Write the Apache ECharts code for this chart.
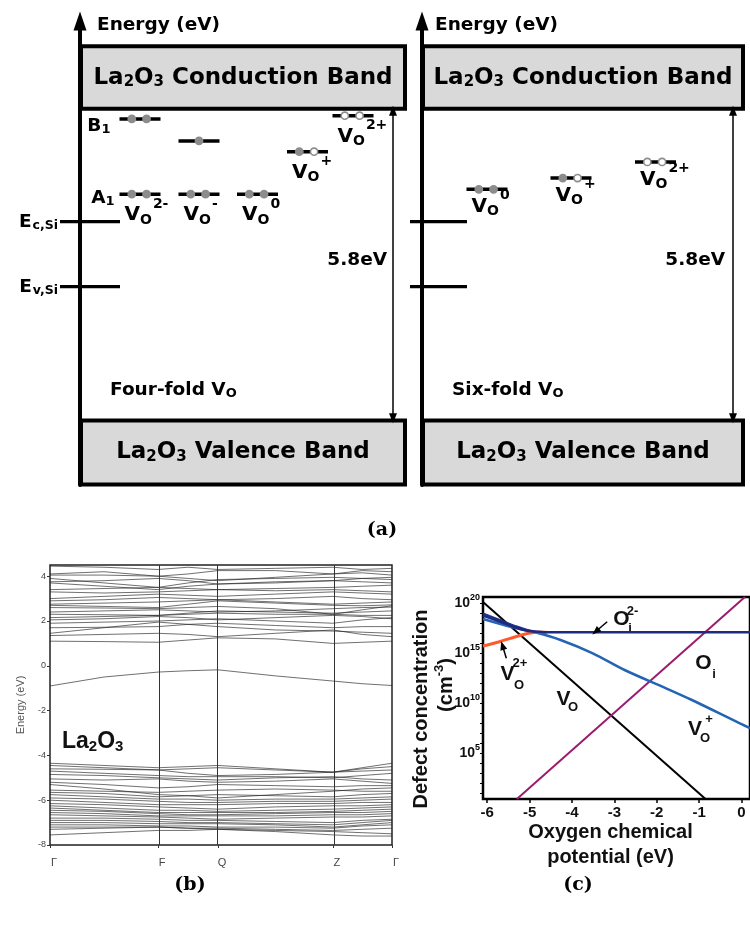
<!DOCTYPE html>
<html><head><meta charset="utf-8">
<script src="https://cdn.jsdelivr.net/npm/echarts@6/dist/echarts.min.js"></script>
<style>html,body{margin:0;padding:0;background:#fff}#c{width:750px;height:925px}</style>
</head><body><div id="c"></div>
<script>
// ===================== DATA =====================
// ---- Panel (a): defect levels, eV above the La2O3 valence-band top ----
const gapLa2O3 = 5.8;
const siEc = 3.70;
const siEv = 2.49;
const fourFoldCharges = ['2-', '-', '0', '+', '2+'];
const fourFoldA1 = [4.21, 4.21, 4.21, null, null];
const fourFoldB1 = [5.61, 5.20, null, 5.00, 5.67];
const fourFoldA1Occ = ['ff', 'ff', 'ff', null, null];   // f = electron, o = empty
const fourFoldB1Occ = ['ff', 'f', null, 'fo', 'oo'];
const sixFoldCharges = ['0', '+', '2+'];
const sixFoldLevel = [4.30, 4.51, 4.81];
const sixFoldOcc = ['ff', 'fo', 'oo'];

// ---- Panel (b): band structure of La2O3 (eV) along Γ-F-Q-Z-Γ ----
const kPath = [0, 0.158, 0.316, 0.404, 0.491, 0.659, 0.827, 0.913, 1.0];
const kTickPos = [0, 0.316, 0.491, 0.827, 1.0];
const kTickLabels = ['Γ', 'F', 'Q', 'Z', 'Γ'];
const conductionBands = [
  [1.10, 1.08, 1.05, 1.15, 1.25, 1.20, 1.00, 1.05, 1.10],
  [1.35, 1.40, 1.45, 1.40, 1.30, 1.45, 1.60, 1.40, 1.30],
  [1.45, 1.70, 1.95, 1.85, 1.75, 1.60, 1.55, 1.50, 1.45],
  [1.70, 1.72, 1.75, 1.85, 1.90, 1.80, 1.70, 1.75, 1.75],
  [1.90, 1.95, 2.00, 2.05, 2.10, 2.00, 1.90, 2.05, 2.15],
  [2.05, 2.10, 2.20, 2.15, 2.05, 2.15, 2.25, 2.20, 2.10],
  [2.15, 2.20, 2.25, 2.30, 2.35, 2.30, 2.30, 2.25, 2.25],
  [2.30, 2.28, 2.25, 2.35, 2.45, 2.40, 2.35, 2.40, 2.45],
  [2.40, 2.45, 2.50, 2.45, 2.40, 2.45, 2.55, 2.60, 2.62],
  [2.60, 2.58, 2.55, 2.60, 2.65, 2.55, 2.30, 2.50, 2.68],
  [2.70, 2.65, 2.60, 2.75, 2.90, 2.80, 2.70, 2.68, 2.72],
  [2.75, 2.80, 2.85, 2.90, 2.95, 2.85, 2.75, 2.80, 2.85],
  [2.90, 2.95, 3.05, 3.00, 2.95, 3.00, 3.10, 3.00, 2.95],
  [3.00, 3.10, 3.20, 3.15, 3.10, 3.20, 3.30, 3.25, 3.20],
  [3.30, 3.25, 3.30, 3.35, 3.40, 3.35, 3.40, 3.35, 3.30],
  [3.40, 3.45, 3.50, 3.45, 3.40, 3.45, 3.50, 3.55, 3.60],
  [3.70, 3.55, 3.40, 3.55, 3.65, 3.75, 3.80, 3.75, 3.70],
  [3.75, 3.80, 3.90, 3.80, 3.65, 3.70, 3.80, 3.90, 3.95],
  [3.90, 3.70, 3.50, 3.70, 3.85, 3.90, 3.95, 3.90, 3.85],
  [4.05, 4.05, 4.00, 4.10, 4.25, 4.25, 4.10, 4.15, 4.05],
  [4.10, 4.20, 4.00, 3.90, 3.80, 3.95, 4.10, 4.25, 4.20],
  [4.45, 4.40, 4.30, 4.40, 4.30, 4.35, 4.40, 4.30, 4.35]
];
const defectBand = [-0.90, -0.50, -0.28, -0.22, -0.18, -0.45, -0.68, -0.80, -0.88];
const valenceBands = [
  [-4.35, -4.45, -4.55, -4.50, -4.45, -4.60, -4.75, -4.55, -4.35],
  [-4.45, -4.55, -4.65, -4.60, -4.55, -4.65, -4.75, -4.60, -4.50],
  [-4.60, -4.62, -4.65, -4.80, -4.90, -4.85, -4.75, -4.70, -4.65],
  [-4.70, -4.80, -4.90, -4.95, -4.95, -4.95, -5.00, -4.90, -4.80],
  [-4.85, -4.90, -5.00, -5.05, -5.10, -5.00, -4.95, -5.05, -5.10],
  [-5.05, -5.10, -5.05, -5.15, -5.20, -5.15, -5.05, -5.15, -5.25],
  [-5.20, -5.30, -5.45, -5.40, -5.30, -5.35, -5.40, -5.35, -5.35],
  [-5.30, -5.50, -5.75, -5.80, -5.90, -5.75, -5.60, -5.50, -5.45],
  [-5.55, -5.60, -5.65, -5.60, -5.55, -5.50, -5.55, -5.60, -5.60],
  [-5.65, -5.70, -5.85, -5.80, -5.75, -5.80, -5.85, -5.75, -5.70],
  [-5.75, -5.85, -5.95, -5.95, -6.00, -5.95, -5.95, -5.90, -5.85],
  [-5.90, -5.95, -6.05, -6.10, -6.10, -6.05, -6.05, -6.00, -5.95],
  [-6.00, -6.10, -6.20, -6.20, -6.20, -6.15, -6.15, -6.10, -6.10],
  [-6.15, -6.20, -6.30, -6.35, -6.40, -6.30, -6.25, -6.25, -6.20],
  [-6.25, -6.35, -6.45, -6.45, -6.50, -6.45, -6.40, -6.35, -6.30],
  [-6.35, -6.45, -6.55, -6.55, -6.55, -6.55, -6.50, -6.45, -6.40],
  [-6.45, -6.50, -6.60, -6.65, -6.65, -6.60, -6.55, -6.55, -6.50],
  [-6.55, -6.60, -6.70, -6.70, -6.70, -6.70, -6.65, -6.65, -6.60],
  [-6.65, -6.70, -6.75, -6.80, -6.85, -6.80, -6.75, -6.75, -6.70],
  [-6.80, -6.80, -6.85, -6.90, -6.90, -6.95, -7.00, -6.90, -6.85],
  [-6.90, -6.90, -6.95, -7.00, -7.00, -7.05, -7.10, -7.00, -6.90],
  [-7.00, -7.00, -7.05, -7.05, -7.05, -7.10, -7.20, -7.10, -7.00],
  [-7.10, -7.10, -7.15, -7.15, -7.20, -7.20, -7.25, -7.15, -7.10],
  [-7.20, -7.20, -7.20, -7.25, -7.25, -7.30, -7.35, -7.30, -7.25],
  [-7.30, -7.25, -7.20, -7.25, -7.30, -7.35, -7.40, -7.45, -7.50],
  [-7.55, -7.45, -7.35, -7.35, -7.30, -7.40, -7.55, -7.60, -7.60]
];

// ---- Panel (c): defect concentration, log10(cm^-3) vs oxygen chemical potential (eV) ----
const muVO = [-6.1, -0.85];
const logVO = [20.1, 0.4];
const muOi = [-5.3, 0.08];
const logOi = [0.4, 20.6];
const muVOp = [-6.1, -5.4, -4.87, -4.27, -3.51, -2.76, -1.78, -1.17, -0.04, 0.2];
const logVOp = [18.4, 17.57, 17.07, 16.3, 14.97, 13.3, 11.47, 10.3, 7.97, 7.5];
const muOi2m = [-6.1, -5.71, -5.33, -5.02, -4.65, 0.2];
const logOi2m = [18.75, 18.15, 17.55, 17.2, 17.07, 17.07];
const muOi2mB = [-6.1, -5.7, -5.3, -5.0, -4.6];
const logOi2mB = [18.95, 18.3, 17.65, 17.25, 17.07];
const muVO2p = [-6.1, -5.71, -5.33, -5.02, -4.80, -4.6];
const logVO2p = [15.7, 16.13, 16.63, 16.97, 17.07, 17.07];
const muTicks = [-6, -5, -4, -3, -2, -1, 0];
const logLabelTicks = [5, 10, 15, 20];
const logMinorTicks = [1,2,3,4,5,6,7,8,9,10,11,12,13,14,15,16,17,18,19,20];

// ===================== LAYOUT / STYLE =====================
const FA = 'DejaVu Sans';
const FS = 'Liberation Sans';
const cols4 = [60, 119, 177.5, 227.5, 273];
const cols6 = [65, 149, 233.5];
const LEVEL_HALF = 20.5;

const richA = {
  m: {fontFamily: FA, fontWeight: 'bold', fontSize: 20, lineHeight: 22, color: '#000', verticalAlign: 'middle'},
  s: {fontFamily: FA, fontWeight: 'bold', fontSize: 14, lineHeight: 14, padding: [10, 0, 0, 0], color: '#000', verticalAlign: 'middle'},
  p: {fontFamily: FA, fontWeight: 'bold', fontSize: 14, lineHeight: 14, padding: [0, 0, 22, 1], color: '#000', verticalAlign: 'middle'},
  t: {fontFamily: FA, fontWeight: 'bold', fontSize: 18.5, lineHeight: 20, color: '#000', verticalAlign: 'middle'},
  ts: {fontFamily: FA, fontWeight: 'bold', fontSize: 13, lineHeight: 13, padding: [7, 0, 0, 0], color: '#000', verticalAlign: 'middle'},
  ts2: {fontFamily: FA, fontWeight: 'bold', fontSize: 12.5, lineHeight: 12.5, padding: [6, 0, 0, 1], color: '#000', verticalAlign: 'middle'},
  big: {fontFamily: FA, fontWeight: 'bold', fontSize: 23, lineHeight: 26, color: '#000', verticalAlign: 'middle'},
  bigs: {fontFamily: FA, fontWeight: 'bold', fontSize: 15, lineHeight: 15, padding: [9, 0, 0, 0], color: '#000', verticalAlign: 'middle'}
};

function txt(x, y, text, dx, dy, align) {
  return {value: [x, y], label: {show: true, formatter: text, position: [dx, dy], align: align || 'left', verticalAlign: 'middle',
    color: '#000', opacity: 1, textBorderWidth: 0, rich: richA}};
}
function vo(c) { return '{m|V}{s|O}{p|' + c + '}'; }

function buildLevels(cols, lists) {
  const items = [];
  lists.forEach(([energies, occs]) => {
    energies.forEach((e, i) => { if (e != null) items.push({x: cols[i], e: e, occ: occs[i]}); });
  });
  return items;
}
const levels4 = buildLevels(cols4, [[fourFoldA1, fourFoldA1Occ], [fourFoldB1, fourFoldB1Occ]]);
const levels6 = buildLevels(cols6, [[sixFoldLevel, sixFoldOcc]]);

function levelSeries(idx, items) {
  return {
    type: 'custom', xAxisIndex: idx, yAxisIndex: idx, silent: true, z: 5,
    data: items.map(it => [it.x, it.e]),
    renderItem: function (params, api) {
      const it = items[params.dataIndex];
      const a = api.coord([it.x - LEVEL_HALF, it.e]);
      const b = api.coord([it.x + LEVEL_HALF, it.e]);
      const w = b[0] - a[0];
      const ch = [{type: 'line', shape: {x1: a[0], y1: a[1], x2: b[0], y2: b[1]}, style: {stroke: '#000', lineWidth: 3.5}}];
      const fr = it.occ.length === 1 ? [0.5] : [0.3, 0.66];
      for (let i = 0; i < it.occ.length; i++) {
        const filled = it.occ[i] === 'f';
        ch.push({type: 'circle', shape: {cx: a[0] + w * fr[i], cy: a[1], r: 3.6},
          style: {fill: filled ? '#8c8c8c' : '#fff', stroke: '#8c8c8c', lineWidth: 1.6}});
      }
      return {type: 'group', children: ch};
    }
  };
}

function lowestPerColumn(lists, n) {
  const out = [];
  for (let i = 0; i < n; i++) {
    let m = null;
    lists.forEach(l => { if (l[i] != null && (m == null || l[i] < m)) m = l[i]; });
    out.push(m);
  }
  return out;
}
const low4 = lowestPerColumn([fourFoldA1, fourFoldB1], fourFoldCharges.length);
const low6 = lowestPerColumn([sixFoldLevel], sixFoldCharges.length);

function boxArea(x0, x1, e0, e1, label) {
  return [{coord: [x0, e0], label: {show: true, position: 'inside', formatter: label, color: '#000', rich: richA},
           itemStyle: {color: '#d9d9d9', borderColor: '#000', borderWidth: 4}},
          {coord: [x1, e1]}];
}
const cbLabel = '{big|La}{bigs|2}{big|O}{bigs|3}{big| Conduction Band}';
const vbLabel = '{big|La}{bigs|2}{big|O}{bigs|3}{big| Valence Band}';

function panelA(idx, cols, levels, low, charges, siSpan, boxX1, arrowX, labelDy, extraLabels) {
  const labels = charges.map((c, i) => txt(cols[i], low[i], vo(c), -15.5, labelDy));
  return [
    {type: 'line', xAxisIndex: idx, yAxisIndex: idx, data: [[siSpan[0], siEc], [siSpan[1], siEc]], symbol: 'none', clip: false, silent: true,
     lineStyle: {color: '#000', width: 3.3}, z: 4,
     markArea: {silent: true, data: [boxArea(1, boxX1, 5.8, 6.96, cbLabel), boxArea(1, boxX1, -1.19, 0, vbLabel)]},
     markLine: {silent: true, symbol: ['triangle', 'triangle'], symbolSize: [8, 10], label: {show: false},
       lineStyle: {color: '#000', width: 1.5, type: 'solid'},
       data: [[{coord: [arrowX, 0.04]}, {coord: [arrowX, gapLa2O3 - 0.04]}]]}},
    {type: 'line', xAxisIndex: idx, yAxisIndex: idx, data: [[siSpan[0], siEv], [siSpan[1], siEv]], symbol: 'none', clip: false, silent: true,
     lineStyle: {color: '#000', width: 3.3}, z: 4},
    levelSeries(idx, levels),
    {type: 'scatter', xAxisIndex: idx, yAxisIndex: idx, symbolSize: 0, silent: true, z: 6,
     itemStyle: {color: '#000', opacity: 1},
     data: labels.concat(extraLabels)}
  ];
}

const seriesA1 = panelA(0, cols4, levels4, low4, fourFoldCharges, [-20, 40], 325, 313, 21, [
  txt(cols4[0], fourFoldB1[0], '{t|B}{ts|1}', -29.5, 7.5, 'right'),
  txt(cols4[0], fourFoldA1[0], '{t|A}{ts|1}', -25.5, 3.5, 'right'),
  txt(-20, siEc, '{t|E}{ts2|c,Si}', -2, 1, 'right'),
  txt(-20, siEv, '{t|E}{ts2|v,Si}', -2, 1, 'right'),
  txt(313, 2.99, '{t|5.8eV}', -6, 0, 'right'),
  txt(17, 7.36, '{t|Energy (eV)}', 0, 0, 'left'),
  txt(30, 0.57, '{t|Four-fold V}{ts|O}', 0, 0, 'left')
]);
const seriesA2 = panelA(1, cols6, levels6, low6, sixFoldCharges, [-12, 45], 321, 311, 17.5, [
  txt(311, 2.99, '{t|5.8eV}', -8, 0, 'right'),
  txt(13, 7.36, '{t|Energy (eV)}', 0, 0, 'left'),
  txt(30, 0.57, '{t|Six-fold V}{ts|O}', 0, 0, 'left')
]);

// panel (b) series
const bandStyle = {color: '#1e1e1e', width: 0.8, opacity: 0.8};
const bandSeries = conductionBands.concat([defectBand], valenceBands).map((b, j) => ({
  type: 'line', xAxisIndex: 2, yAxisIndex: 2, symbol: 'none', silent: true,
  data: kPath.map((k, i) => [k, b[i]]), lineStyle: bandStyle,
  markLine: j === 0 ? {silent: true, symbol: 'none', label: {show: false},
    lineStyle: {color: '#333', width: 1, type: 'solid'},
    data: kTickPos.slice(1, 4).map(v => ({xAxis: v}))} : undefined
}));

// panel (c) series
function cLine(mu, lg, color, width, smooth, extra) {
  return Object.assign({type: 'line', xAxisIndex: 3, yAxisIndex: 3, symbol: 'none', silent: true, smooth: smooth,
    data: mu.map((m, i) => [m, lg[i]]), lineStyle: {color: color, width: width}}, extra || {});
}
const arrowMark = {silent: true, symbol: ['none', 'triangle'], symbolSize: [7, 9], label: {show: false},
  lineStyle: {color: '#000', width: 1.5, type: 'solid'},
  data: [
    [{coord: [-3.17, 18.13]}, {coord: [-3.44, 17.15]}],
    [{coord: [-5.55, 14.47]}, {coord: [-5.64, 15.75]}]
  ]};
const seriesC = [
  cLine(muVO, logVO, '#000', 2, false, {markLine: arrowMark}),
  cLine(muOi, logOi, '#9b1c6e', 2, false),
  cLine(muVOp, logVOp, '#2464b4', 2.5, 0.3),
  cLine(muVO2p, logVO2p, '#ff5a2c', 3, 0.3),
  cLine(muOi2mB, logOi2mB, '#22308a', 2, 0.3),
  cLine(muOi2m, logOi2m, '#1c2a80', 2.5, 0.3)
];

const hiddenX = {type: 'value', axisLine: {show: false}, axisTick: {show: false}, axisLabel: {show: false}, splitLine: {show: false}};
const aY = {type: 'value', min: -1.2, max: 7.43,
  axisLine: {show: true, onZero: true, symbol: ['none', 'triangle'], symbolSize: [13, 19], lineStyle: {color: '#000', width: 4}},
  axisTick: {show: false}, axisLabel: {show: false}, splitLine: {show: false}};

const supRich = {p: {fontFamily: FS, fontWeight: 'bold', fontSize: 9, lineHeight: 9, padding: [0, 0, 10, 0], color: '#000'}};

const option = {
  animation: false,
  backgroundColor: '#fff',
  textStyle: {fontFamily: FS},
  grid: [
    {left: 0, top: 21.1, width: 410, height: 463.9},
    {left: 342, top: 21.1, width: 408, height: 463.9},
    {left: 50, top: 565, width: 342, height: 280, show: true, borderColor: '#222', borderWidth: 1.5, backgroundColor: 'transparent'},
    {left: 483, top: 597, width: 278, height: 202, show: true, borderColor: '#000', borderWidth: 2.5, backgroundColor: 'transparent'}
  ],
  xAxis: [
    Object.assign({gridIndex: 0, min: -80, max: 330}, hiddenX),
    Object.assign({gridIndex: 1, min: -80, max: 328}, hiddenX),
    {gridIndex: 2, type: 'value', min: 0, max: 1, axisLine: {show: false, onZero: false},
     axisTick: {show: true, customValues: kTickPos, length: 3, lineStyle: {color: '#333'}},
     axisLabel: {show: true, customValues: kTickPos, fontSize: 11, color: '#444', margin: 12, padding: [0, 0, 0, 8],
       formatter: v => kTickLabels[kTickPos.findIndex(p => Math.abs(p - v) < 1e-6)] || ''},
     splitLine: {show: false}},
    {gridIndex: 3, type: 'value', min: -6.1, max: 0.2, axisLine: {show: false, onZero: false},
     axisTick: {show: true, customValues: muTicks, length: 4, lineStyle: {color: '#000', width: 1.5}},
     axisLabel: {show: true, customValues: muTicks, fontSize: 15, fontWeight: 'bold', color: '#111', margin: 6},
     splitLine: {show: false}}
  ],
  yAxis: [
    Object.assign({gridIndex: 0}, aY),
    Object.assign({gridIndex: 1}, aY),
    {gridIndex: 2, type: 'value', min: -8, max: 4.5, interval: 2, axisLine: {show: false, onZero: false},
     axisTick: {show: true, length: 3, lineStyle: {color: '#333'}},
     axisLabel: {fontSize: 9, color: '#444', margin: 4, showMaxLabel: false},
     splitLine: {show: false},
     name: 'Energy (eV)', nameLocation: 'middle', nameGap: 24, nameTextStyle: {fontSize: 11, color: '#555'}},
    {gridIndex: 3, type: 'value', min: 0.4, max: 20.6, axisLine: {show: false, onZero: false},
     axisTick: {show: true, customValues: logMinorTicks, length: 3, lineStyle: {color: '#000', width: 1}},
     axisLabel: {show: true, customValues: logLabelTicks, fontSize: 14, fontWeight: 'bold', color: '#111', margin: 3,
       formatter: v => '10{p|' + v + '}', rich: supRich},
     splitLine: {show: false}}
  ],
  series: [].concat(seriesA1, seriesA2, bandSeries, seriesC),
  graphic: [
    {type: 'text', x: 382, y: 530, style: {text: '(a)', fontFamily: 'DejaVu Serif', fontWeight: 'bold', fontSize: 19, fill: '#000', align: 'center', verticalAlign: 'middle'}},
    {type: 'text', x: 190, y: 885, style: {text: '(b)', fontFamily: 'DejaVu Serif', fontWeight: 'bold', fontSize: 19, fill: '#000', align: 'center', verticalAlign: 'middle'}},
    {type: 'text', x: 578, y: 885, style: {text: '(c)', fontFamily: 'DejaVu Serif', fontWeight: 'bold', fontSize: 19, fill: '#000', align: 'center', verticalAlign: 'middle'}},
    {type: 'text', x: 62, y: 742, style: {text: 'La{s|2}O{s|3}', fontFamily: FS, fontWeight: 'bold', fontSize: 23, fill: '#111', align: 'left', verticalAlign: 'middle',
      rich: {s: {fontFamily: FS, fontWeight: 'bold', fontSize: 15, lineHeight: 15, padding: [9, 0, 0, 0], fill: '#111'}}}},
    // panel (c) axis titles
    {type: 'text', x: 610.5, y: 832.5, style: {text: 'Oxygen chemical', fontFamily: FS, fontWeight: 'bold', fontSize: 20, fill: '#111', align: 'center', verticalAlign: 'middle'}},
    {type: 'text', x: 610.5, y: 857.5, style: {text: 'potential (eV)', fontFamily: FS, fontWeight: 'bold', fontSize: 20, fill: '#111', align: 'center', verticalAlign: 'middle'}},
    {type: 'text', x: 421.5, y: 709, rotation: Math.PI / 2, style: {text: 'Defect concentration', fontFamily: FS, fontWeight: 'bold', fontSize: 20, fill: '#111', align: 'center', verticalAlign: 'middle'}},
    {type: 'text', x: 446, y: 685, rotation: Math.PI / 2, style: {text: '(cm{p|-3})', fontFamily: FS, fontWeight: 'bold', fontSize: 20, fill: '#111', align: 'center', verticalAlign: 'middle',
      rich: {p: {fontFamily: FS, fontWeight: 'bold', fontSize: 13, lineHeight: 13, padding: [0, 0, 14, 0], fill: '#111'}}}},
    // panel (c) curve labels
    {type: 'text', x: 621.5, y: 619, style: {text: 'O', fontFamily: FS, fontWeight: 'bold', fontSize: 21, fill: '#111', align: 'center', verticalAlign: 'middle'}},
    {type: 'text', x: 632.5, y: 611.5, style: {text: '2-', fontFamily: FS, fontWeight: 'bold', fontSize: 13, fill: '#111', align: 'center', verticalAlign: 'middle'}},
    {type: 'text', x: 630, y: 628, style: {text: 'i', fontFamily: FS, fontWeight: 'bold', fontSize: 13, fill: '#111', align: 'center', verticalAlign: 'middle'}},
    {type: 'text', x: 703.5, y: 663.5, style: {text: 'O', fontFamily: FS, fontWeight: 'bold', fontSize: 21, fill: '#111', align: 'center', verticalAlign: 'middle'}},
    {type: 'text', x: 714, y: 674, style: {text: 'i', fontFamily: FS, fontWeight: 'bold', fontSize: 13, fill: '#111', align: 'center', verticalAlign: 'middle'}},
    {type: 'text', x: 507.5, y: 674.5, style: {text: 'V', fontFamily: FS, fontWeight: 'bold', fontSize: 21, fill: '#111', align: 'center', verticalAlign: 'middle'}},
    {type: 'text', x: 519, y: 685, style: {text: 'O', fontFamily: FS, fontWeight: 'bold', fontSize: 13, fill: '#111', align: 'center', verticalAlign: 'middle'}},
    {type: 'text', x: 520, y: 663, style: {text: '2+', fontFamily: FS, fontWeight: 'bold', fontSize: 13, fill: '#111', align: 'center', verticalAlign: 'middle'}},
    {type: 'text', x: 563.5, y: 699.5, style: {text: 'V', fontFamily: FS, fontWeight: 'bold', fontSize: 21, fill: '#111', align: 'center', verticalAlign: 'middle'}},
    {type: 'text', x: 573, y: 707, style: {text: 'O', fontFamily: FS, fontWeight: 'bold', fontSize: 13, fill: '#111', align: 'center', verticalAlign: 'middle'}},
    {type: 'text', x: 695, y: 729.5, style: {text: 'V', fontFamily: FS, fontWeight: 'bold', fontSize: 21, fill: '#111', align: 'center', verticalAlign: 'middle'}},
    {type: 'text', x: 705, y: 738, style: {text: 'O', fontFamily: FS, fontWeight: 'bold', fontSize: 13, fill: '#111', align: 'center', verticalAlign: 'middle'}},
    {type: 'text', x: 709, y: 719, style: {text: '+', fontFamily: FS, fontWeight: 'bold', fontSize: 13, fill: '#111', align: 'center', verticalAlign: 'middle'}}
  ]
};

const chart = echarts.init(document.getElementById('c'), null, {renderer: 'canvas', width: 750, height: 925});
chart.setOption(option);
</script>
</body></html>
